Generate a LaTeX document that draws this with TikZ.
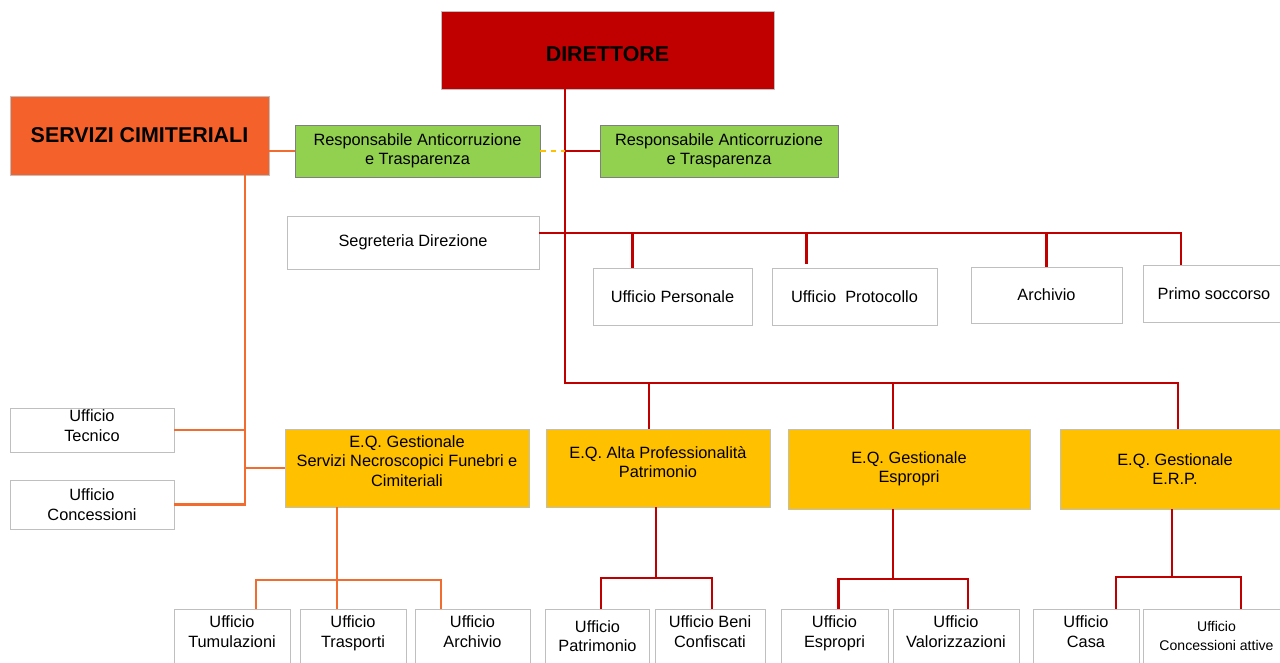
\documentclass[tikz,border=0pt]{standalone}
\usepackage{fontspec}
\setmainfont{Liberation Sans}
\usepackage{tikz}
\usetikzlibrary{calc}

\definecolor{dirred}{HTML}{C00000}
\definecolor{servorange}{HTML}{F5612A}
\definecolor{lineorange}{HTML}{F26B2F}
\definecolor{respgreen}{HTML}{92D050}
\definecolor{eqyellow}{HTML}{FFC000}
\definecolor{boxgray}{HTML}{BFBFBF}
\definecolor{darkgray}{HTML}{7F7F7F}

\begin{document}
\begin{tikzpicture}[x=0.02cm, y=-0.02cm,
    office/.style={rectangle, draw=boxgray, fill=white, align=center, inner sep=1pt, font=\fontsize{9.3}{11}\selectfont},
    resp/.style={office, draw=darkgray, fill=respgreen},
    eq/.style={office, fill=eqyellow},
    head/.style={rectangle, draw=boxgray, align=center, font=\fontsize{12.2}{14}\selectfont\bfseries},
    rline/.style={draw=dirred, line width=1.3pt},
    oline/.style={draw=lineorange, line width=1.3pt},
    dline/.style={draw=eqyellow, line width=0.8pt, dashed}
]
\clip (0,0) rectangle (1280,662);

% HEADS
\node[head, fill=dirred, minimum width=6.66cm, minimum height=1.56cm] (dir) at (607.5,50) {\raisebox{-2.3pt}[\height][\depth]{DIRETTORE}};
\node[head, fill=servorange, minimum width=5.18cm, minimum height=1.58cm] (serv) at (139.5,135.5) {SERVIZI CIMITERIALI};

% Anticorruzione
\node[resp, minimum width=4.9cm, minimum height=1.04cm] (resp1) at (417.5,151) {Responsabile Anticorruzione\\e Trasparenza};
\node[resp, minimum width=4.76cm, minimum height=1.04cm] (resp2) at (719,151) {Responsabile Anticorruzione\\e Trasparenza};

% Staff offices
\node[office, minimum width=5.04cm, minimum height=1.06cm] (segr) at (413,242.5) {Segreteria Direzione};
\node[office, minimum width=3.18cm, minimum height=1.14cm] (upers) at (672.5,296.5) {Ufficio Personale};
\node[office, minimum width=3.3cm, minimum height=1.14cm] (uprot) at (854.5,296.5) {Ufficio\ \ Protocollo};
\node[office, minimum width=3.02cm, minimum height=1.12cm] (arch) at (1046.5,295) {Archivio};
\node[office, minimum width=2.84cm, minimum height=1.14cm] (primo) at (1214,293.5) {Primo soccorso};

% Cimiteriali offices
\node[office, minimum width=3.28cm, minimum height=0.88cm] (utec) at (92,430) {Ufficio\\Tecnico\\[-6pt]};
\node[office, minimum width=3.28cm, minimum height=0.98cm] (ucon) at (92,504.5) {Ufficio\\Concessioni};

% E.Q. boxes
\node[eq, minimum width=4.88cm, minimum height=1.56cm] (eqsrv) at (407,468) {E.Q. Gestionale\\Servizi Necroscopici Funebri e\\Cimiteriali\\[-3pt]};
\node[eq, minimum width=4.48cm, minimum height=1.56cm] (eqalta) at (658,468) {E.Q. Alta Professionalità\\Patrimonio\\[-4pt]};
\node[eq, minimum width=4.84cm, minimum height=1.6cm] (eqesp) at (909,469) {E.Q. Gestionale\\Espropri};
\node[eq, minimum width=4.6cm, minimum height=1.6cm] (eqerp) at (1175,469) {E.Q. Gestionale\\E.R.P.};

% Bottom offices
\node[office, minimum width=2.32cm, minimum height=1.08cm] (utum) at (232,636) {Ufficio\\Tumulazioni\\[-6pt]};
\node[office, minimum width=2.12cm, minimum height=1.08cm] (utra) at (353,636) {Ufficio\\Trasporti\\[-6pt]};
\node[office, minimum width=2.3cm, minimum height=1.08cm] (uarc) at (472.5,636) {Ufficio\\Archivio\\[-6pt]};
\node[office, minimum width=2.08cm, minimum height=1.08cm] (upat) at (597.5,636) {Ufficio\\Patrimonio};
\node[office, minimum width=2.2cm, minimum height=1.08cm] (ubeni) at (710,636) {Ufficio Beni\\Confiscati\\[-6pt]};
\node[office, minimum width=2.14cm, minimum height=1.08cm] (uesp) at (834.5,636) {Ufficio\\Espropri\\[-6pt]};
\node[office, minimum width=2.52cm, minimum height=1.08cm] (uval) at (956,636) {Ufficio\\Valorizzazioni\\[-6pt]};
\node[office, minimum width=2.12cm, minimum height=1.08cm] (ucasa) at (1086,636) {Ufficio\\Casa\\[-6pt]};
\node[office, minimum width=2.94cm, minimum height=1.08cm, font=\fontsize{8}{11}\selectfont] (ucatt) at (1216.5,636) {Ufficio\\Concessioni attive};

% Direttore trunk
\coordinate (trunk) at (565,383);
\draw[rline] (dir.south -| trunk) -- (trunk) -| ($(eqerp.north)+(3,0)$);
\draw[rline] ($(eqalta.north)+(-9,0)$) |- (trunk);
\draw[rline] ($(eqesp.north)+(-16,0)$) |- (trunk);
\draw[rline] (resp2.west) -- (resp2.west -| trunk);
\draw[dline] (resp1.east) -- (resp1.east -| trunk);

% Segreteria bus
\coordinate (segbus) at (1181,233);
\coordinate (dPers) at ($(upers.north)+(-40,0)$);
\coordinate (dProt) at ($(uprot.north)+(-48,-4)$);
\coordinate (dArch) at ($(arch.north)+(0,0)$);
\draw[rline] (segr.east |- segbus) -- (segbus) -- (segbus |- primo.north);
\draw[rline] (dPers) -- (dPers |- segbus);
\draw[rline] (dProt) -- (dProt |- segbus);
\draw[rline] (dArch) -- (dArch |- segbus);

% Servizi cimiteriali
\coordinate (ospine) at (245,503);
\draw[oline] (serv.east |- resp1.west) -- (resp1.west);
\draw[oline] (serv.south -| ospine) |- (ucon.east);
\draw[oline] (utec.east) -- (utec.east -| ospine);
\draw[oline] (eqsrv.west) -- (eqsrv.west -| ospine);

% Bottom buses
\coordinate (busSrv) at (337,580);
\draw[oline] (eqsrv.south -| busSrv) -- ($(utra.north)+(-16,0)$);
\draw[oline] ($(utum.north)+(24,0)$) |- (busSrv) -| ($(uarc.north)+(-31.5,0)$);

\coordinate (busAlta) at (656,578);
\draw[rline] (eqalta.south -| busAlta) -- (busAlta);
\draw[rline] ($(upat.north)+(3.5,0)$) |- (busAlta) -| ($(ubeni.north)+(2,0)$);

\coordinate (busEsp) at (893,579);
\draw[rline] (eqesp.south -| busEsp) -- (busEsp);
\draw[rline] ($(uesp.north)+(4,0)$) |- (busEsp) -| ($(uval.north)+(12,0)$);

\coordinate (busErp) at (1172,577);
\draw[rline] (eqerp.south -| busErp) -- (busErp);
\draw[rline] ($(ucasa.north)+(30,0)$) |- (busErp) -| ($(ucatt.north)+(24.5,0)$);

\end{tikzpicture}
\end{document}
